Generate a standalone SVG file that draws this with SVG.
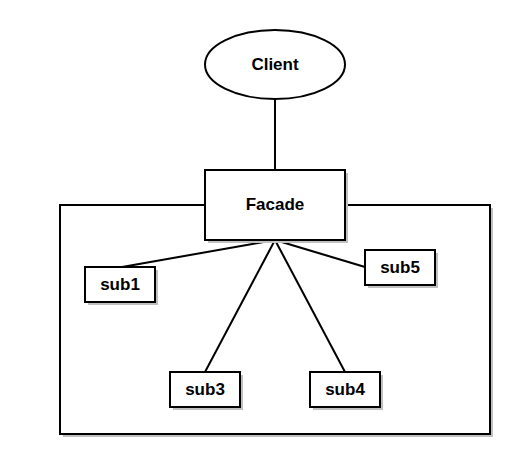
<svg xmlns="http://www.w3.org/2000/svg" width="510" height="455" viewBox="0 0 510 455">
<style>
.sh{fill:#c0c0c0;stroke:none}
.n{fill:#fff;stroke:#000;stroke-width:2}
.t{font-family:"Liberation Sans",Arial,sans-serif;font-weight:bold;font-size:17px;text-anchor:middle;dominant-baseline:central;fill:#000}
.e{stroke:#000;stroke-width:2;fill:none}
</style>
<rect width="510" height="455" fill="#fff"/>
<g id="container">
<rect class="sh" x="63" y="208" width="430" height="229"/>
<rect class="n" x="60" y="205" width="430" height="229"/>
</g>
<g id="connectors">
<line class="e" x1="275" y1="99" x2="275" y2="170"/>
<line class="e" x1="275" y1="240" x2="122" y2="267"/>
<line class="e" x1="275" y1="240" x2="205" y2="372"/>
<line class="e" x1="275" y1="240" x2="345" y2="372"/>
<line class="e" x1="275" y1="240" x2="365" y2="267"/>
</g>
<g id="client">
<ellipse class="n" cx="275" cy="64.5" rx="70" ry="34.5"/>
<text class="t" x="275" y="64.5">Client</text>
</g>
<g id="facade">
<rect class="sh" x="208" y="173" width="140" height="70"/>
<rect class="n" x="205" y="170" width="140" height="70"/>
<text class="t" x="275" y="204">Facade</text>
</g>
<g id="sub1">
<rect class="sh" x="88" y="270" width="70" height="35"/>
<rect class="n" x="85" y="267" width="70" height="35"/>
<text class="t" x="120" y="284.5">sub1</text>
</g>
<g id="sub5">
<rect class="sh" x="368" y="253" width="70" height="35"/>
<rect class="n" x="365" y="250" width="70" height="35"/>
<text class="t" x="400" y="267.5">sub5</text>
</g>
<g id="sub3">
<rect class="sh" x="173" y="375" width="70" height="35"/>
<rect class="n" x="170" y="372" width="70" height="35"/>
<text class="t" x="205" y="389.5">sub3</text>
</g>
<g id="sub4">
<rect class="sh" x="313" y="375" width="70" height="35"/>
<rect class="n" x="310" y="372" width="70" height="35"/>
<text class="t" x="345" y="389.5">sub4</text>
</g>
</svg>
